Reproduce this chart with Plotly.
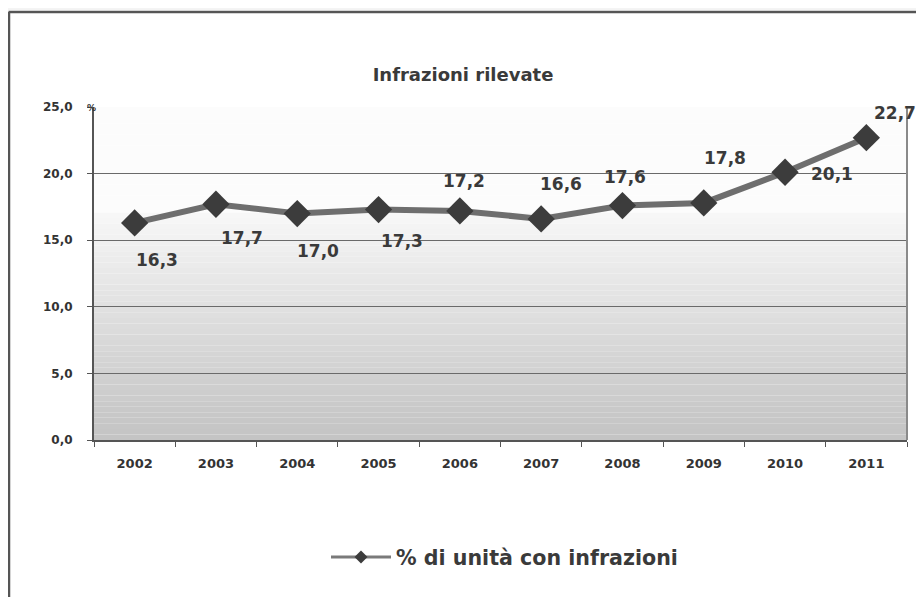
import plotly.graph_objects as go

years = ["2002", "2003", "2004", "2005", "2006", "2007", "2008", "2009", "2010", "2011"]
values = [16.3, 17.7, 17.0, 17.3, 17.2, 16.6, 17.6, 17.8, 20.1, 22.7]
value_labels = ["16,3", "17,7", "17,0", "17,3", "17,2", "16,6", "17,6", "17,8", "20,1", "22,7"]
series_name = "% di unità con infrazioni"
title_text = "Infrazioni rilevate"

# label offsets in pixels (style)
label_dx = [22, 26, 21, 23, 4, 20, 3, 21, 47, 29]
label_dy = [-37, -34, -37, -31, 30, 35, 29, 45, -2, 25]

W, H = 924, 597
OFF = 8  # page offset of the figure inside the browser window
L, R, T, B = 94 - OFF, 924 - (907 - OFF), 107 - OFF, 597 - (440 - OFF)
FONT = "DejaVu Sans, Verdana, sans-serif"

def px(p):
    return (p - OFF - L) / (W - L - R)

def py(q):
    return (H - B - (q - OFF)) / (H - T - B)

fig = go.Figure()

fig.add_trace(go.Scatter(
    x=years, y=values, mode="lines+markers", name=series_name,
    line=dict(color="#6e6e6e", width=6),
    marker=dict(symbol="diamond", size=21, color="#3c3c3c"),
    showlegend=False,
))
# legend entry styled like the reference key
fig.add_trace(go.Scatter(
    x=[None], y=[None], mode="lines+markers", name=series_name,
    line=dict(color="#7a7a7a", width=3),
    marker=dict(symbol="diamond", size=10, color="#3c3c3c"),
    showlegend=True,
))

for i, (y, t, dx, dy) in enumerate(zip(values, value_labels, label_dx, label_dy)):
    fig.add_annotation(x=i, y=y, text=t, showarrow=False, xshift=dx, yshift=dy,
                       font=dict(family=FONT, size=17, color="#3a3a3a", weight=700))

# gradient background bands (paper coords)
shapes = []
n = 60
for i in range(n):
    y0 = i / n
    y1 = (i + 1) / n
    v = (y0 + y1) / 2 * 25
    if v >= 17:
        c = 252
    else:
        c = int(196 + (248 - 196) * (v / 17.0) ** 1.1)
    shapes.append(dict(type="rect", xref="paper", yref="paper", x0=0, x1=1, y0=y0, y1=y1,
                       fillcolor=f"rgb({c},{c},{c})", line=dict(width=0), layer="below"))
# right border of plot area
shapes.append(dict(type="line", xref="paper", yref="paper", x0=1, x1=1, y0=0, y1=1,
                   line=dict(color="#8a8a8a", width=2)))
# outer chart border (top and left)
shapes.append(dict(type="line", xref="paper", yref="paper", x0=px(8.5), x1=px(940), y0=py(12), y1=py(12),
                   line=dict(color="#555555", width=2.5)))
shapes.append(dict(type="line", xref="paper", yref="paper", x0=px(9), x1=px(9), y0=py(12), y1=py(610),
                   line=dict(color="#555555", width=2.5)))
shapes.append(dict(type="line", xref="paper", yref="paper", x0=px(8), x1=px(940), y0=py(9), y1=py(9),
                   line=dict(color="#e8e8e8", width=1)))

fig.add_annotation(xref="paper", yref="paper", x=px(85), y=py(100.5), text="%", showarrow=False,
                   font=dict(family=FONT, size=9, color="#333", weight=700))

fig.update_layout(
    width=W, height=H,
    margin=dict(l=L, r=R, t=T, b=B),
    paper_bgcolor="white", plot_bgcolor="white",
    separators=",.",
    shapes=shapes,
    title=dict(text=title_text, x=(463 - OFF) / W, y=1 - (75 - OFF) / H, xanchor="center", yanchor="middle",
               font=dict(family=FONT, size=18, color="#3a3a3a", weight=700)),
    xaxis=dict(type="category", tickson="boundaries", ticks="outside", ticklen=5, tickcolor="#555",
               showline=True, linecolor="#555", linewidth=2, showgrid=False,
               range=[-0.5, 9.5], ticklabelstandoff=10,
               tickfont=dict(family=FONT, size=13, color="#333", weight=700)),
    yaxis=dict(range=[0, 25], dtick=5, tickformat=".1f", ticks="outside", ticklen=5, tickcolor="#555",
               showline=True, linecolor="#555", linewidth=2, showgrid=True, gridcolor="#6a6a6a",
               gridwidth=1, zeroline=False, ticklabelstandoff=12,
               tickfont=dict(family=FONT, size=12, color="#333", weight=700)),
    legend=dict(orientation="h", x=px(326), y=py(557), xanchor="left", yanchor="middle",
                bgcolor="rgba(0,0,0,0)", itemwidth=60,
                font=dict(family=FONT, size=20.6, color="#3a3a3a", weight=700)),
)

fig.write_html("out.html")
